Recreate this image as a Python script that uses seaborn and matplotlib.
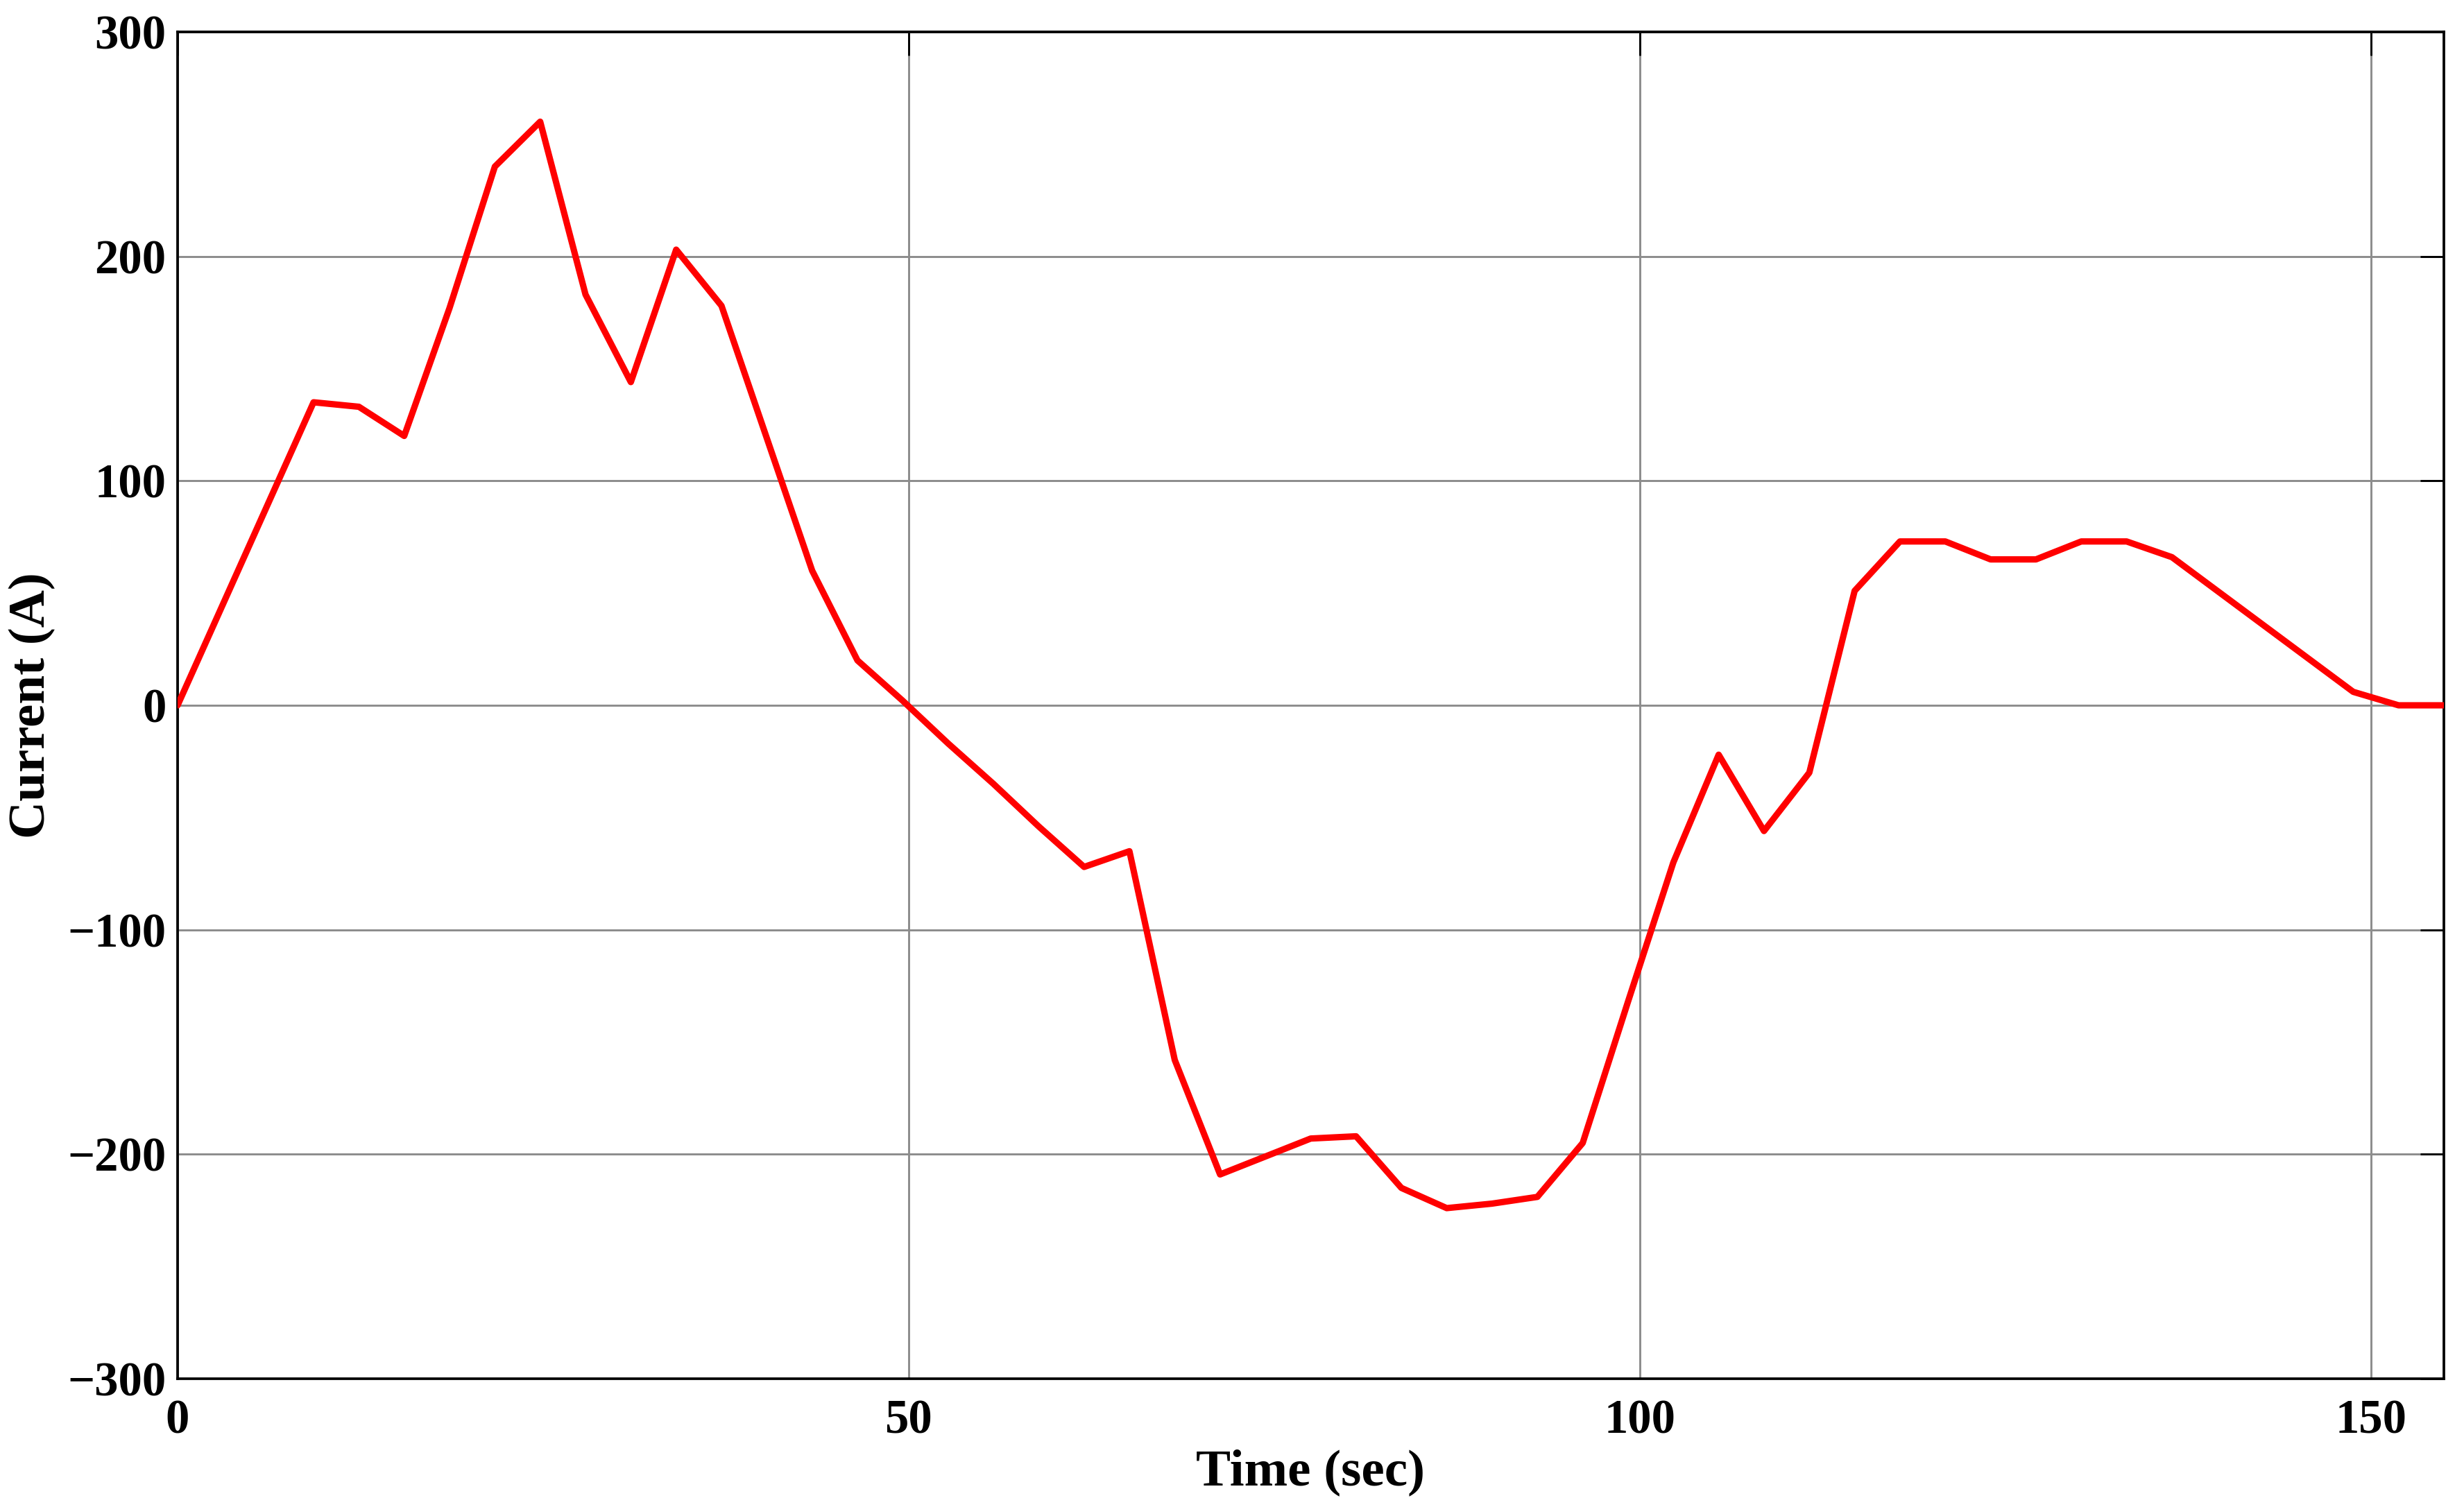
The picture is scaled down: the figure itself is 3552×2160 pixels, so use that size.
import matplotlib
matplotlib.use("Agg")
import matplotlib.pyplot as plt
import seaborn as sns
import pandas as pd

time_sec = [0.0, 3.1, 6.2, 9.3, 12.4, 15.5, 18.6, 21.7, 24.8, 27.9,
            31.0, 34.1, 37.2, 40.3, 43.4, 46.5, 49.6, 52.7, 55.8, 58.9,
            62.0, 65.1, 68.2, 71.3, 74.4, 77.5, 80.6, 83.7, 86.8, 89.9,
            93.0, 96.1, 99.2, 102.3, 105.4, 108.5, 111.6, 114.7, 117.8, 120.9,
            124.0, 127.1, 130.2, 133.3, 136.4, 139.5, 142.6, 145.7, 148.8, 151.9,
            155.0]
current_a = [0, 45, 90, 135, 133, 120, 177, 240, 260, 183,
             144, 203, 178, 119, 60, 20, 2, -17, -35, -54,
             -72, -65, -158, -209, -201, -193, -192, -215, -224, -222,
             -219, -195, -132, -70, -22, -56, -30, 51, 73, 73,
             65, 65, 73, 73, 66, 51, 36, 21, 6, 0,
             0]

x_ticks = [0, 50, 100, 150]
y_ticks = [-300, -200, -100, 0, 100, 200, 300]

df = pd.DataFrame({"Time": time_sec, "Current": current_a})

sns.set_theme(style="white")
plt.rcParams['font.family'] = ['Liberation Serif', 'DejaVu Serif']
plt.rcParams['font.weight'] = 'bold'
plt.rcParams['axes.unicode_minus'] = True
plt.rcParams['text.color'] = 'black'
plt.rcParams['axes.labelcolor'] = 'black'
plt.rcParams['xtick.color'] = 'black'
plt.rcParams['ytick.color'] = 'black'

fig = plt.figure(figsize=(3552/300, 2160/300), dpi=300)
ax = fig.add_axes([256/3552, (2160-1988)/2160, (3523-256)/3552, (1988-46)/2160])

sns.lineplot(data=df, x="Time", y="Current", ax=ax, color="#ff0000",
             linewidth=2.2, zorder=3)

ax.set_xlim(0, 155)
ax.set_ylim(-300, 300)
ax.set_xticks(x_ticks)
ax.set_yticks(y_ticks)
ax.grid(True, color="#8c8c8c", linewidth=0.7)
ax.set_axisbelow(True)

for s in ax.spines.values():
    s.set_color("black")
    s.set_linewidth(0.9)
    s.set_visible(True)

ax.tick_params(axis="both", which="major", direction="in", length=8.2,
               width=0.7, color="black", labelcolor="black", top=True, right=True,
               labelsize=16.5)
ax.tick_params(axis="x", pad=7)
ax.tick_params(axis="y", pad=4)
for lab in ax.get_xticklabels() + ax.get_yticklabels():
    lab.set_fontweight("bold")
    lab.set_color("black")

ax.set_xlabel("Time (sec)", fontsize=18, fontweight="bold", labelpad=2, color="black")
ax.set_ylabel("Current (A)", fontsize=18, fontweight="bold", labelpad=4, color="black")

fig.savefig("out.png", dpi=300, facecolor="white")
